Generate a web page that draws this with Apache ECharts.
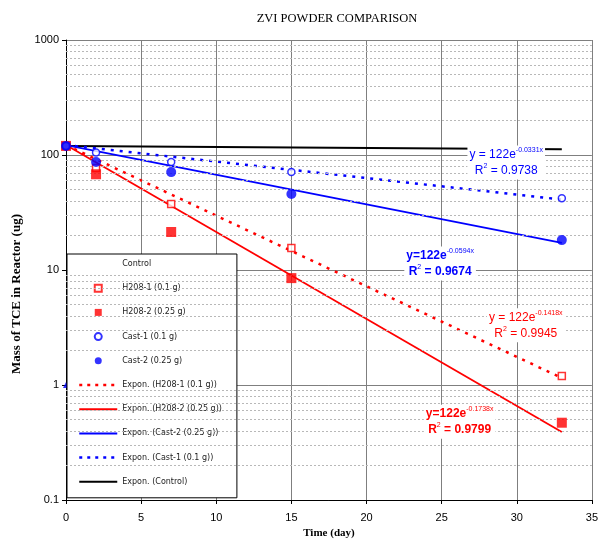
<!DOCTYPE html>
<html>
<head>
<meta charset="utf-8">
<script src="https://cdn.jsdelivr.net/npm/echarts@6/dist/echarts.min.js"></script>
<style>
html,body{margin:0;padding:0;background:#fff;}
#c{width:601px;height:548px;}
</style>
</head>
<body>
<div id="c"></div>
<script>
// ---- data ----
var xTicks = [0, 5, 10, 15, 20, 25, 30, 35];
var yTicks = [0.1, 1, 10, 100, 1000];
var minorGrid = [0.2,0.3,0.4,0.5,0.6,0.7,0.8,0.9,2,3,4,5,6,7,8,9,20,30,40,50,60,70,80,90,200,300,400,500,600,700,800,900];

var days = [0, 2, 7, 15, 33];
var h208_1 = [120, 77, 37.5, 15.5, 1.2];
var h208_2 = [120, 68, 21.4, 8.5, 0.47];
var cast_1 = [120, 105, 87, 71, 42];
var cast_2 = [120, 87, 71, 45.8, 18.2];

var trendDays = [0, 33];
var trendH208_1 = [122, 1.15];
var trendH208_2 = [122, 0.39];
var trendCast_2 = [122, 17.2];
var trendCast_1 = [122, 41];
var trendControl = [120, 112];

var strayPoint = [[0, 1]];

// annotation anchors [day, value] and texts
var annCast1 = {at: [29.3, 86], exp: '-0.0331x', r2: '0.9738'};
var annCast2 = {at: [24.9, 11.4], exp: '-0.0594x', r2: '0.9674'};
var annH1 = {at: [30.6, 3.3], exp: '-0.1418x', r2: '0.9945'};
var annH2 = {at: [26.2, 0.48], exp: '-0.1738x', r2: '0.9799'};

function pairs(xs, ys){ return xs.map(function(x,i){ return [x, ys[i]]; }); }

var RED = '#ff0000', BLUE = '#0000ff';
var SQUARE = 'path://M0,0L10,0L10,10L0,10Z';

function annotation(a, color, bold){
  var w = bold ? 'bold' : 'normal';
  var sp = bold ? '' : ' ';
  return {
    silent: true,
    symbol: 'rect', symbolSize: 0,
    data: [{coord: a.at}],
    label: {
      show: true, position: 'inside',
      backgroundColor: '#fff', padding: [1, 2],
      align: 'center', verticalAlign: 'middle',
      formatter: '{a|y' + sp + '=' + sp + '122e}{s|' + a.exp + '}\n{a|R}{s|2}{a| = ' + a.r2 + '}',
      rich: {
        a: {fontFamily: 'Liberation Sans, Arial', fontSize: 12, fontWeight: w, color: color, lineHeight: 16},
        s: {fontFamily: 'Liberation Sans, Arial', fontSize: 7, color: color, verticalAlign: 'top', lineHeight: 16, padding: [0,0,6,0]}
      }
    }
  };
}

var chart = echarts.init(document.getElementById('c'), null, {renderer: 'canvas'});

var hideSym = {opacity: 0};
var legendData = [
  {name: 'Control'},
  {name: 'H208-1 (0.1 g)', icon: SQUARE},
  {name: 'H208-2 (0.25 g)', icon: SQUARE},
  {name: 'Cast-1 (0.1 g)', icon: 'circle'},
  {name: 'Cast-2 (0.25 g)', icon: 'circle'},
  {name: 'Expon. (H208-1 (0.1 g))', itemStyle: hideSym, lineStyle: {type: [3, 5], width: 2.5}},
  {name: 'Expon. (H208-2 (0.25 g))', itemStyle: hideSym, lineStyle: {type: 'solid', width: 2}},
  {name: 'Expon. (Cast-2 (0.25 g))', itemStyle: hideSym, lineStyle: {type: 'solid', width: 2}},
  {name: 'Expon. (Cast-1 (0.1 g))', itemStyle: hideSym, lineStyle: {type: [3, 5], width: 2.5}},
  {name: 'Expon. (Control)', itemStyle: hideSym, lineStyle: {type: 'solid', width: 2}}
];

var option = {
  animation: false,
  backgroundColor: '#fff',
  title: {
    text: 'ZVI POWDER COMPARISON',
    left: 332, top: 7, textAlign: 'center',
    textStyle: {fontFamily: 'Liberation Serif, Times New Roman, serif', fontSize: 12.5, fontWeight: 'normal', color: '#000'}
  },
  grid: {left: 66, right: 3, top: 40, bottom: 48, containLabel: false},
  legend: {
    data: legendData,
    orient: 'vertical',
    left: 67, top: 254,
    padding: [5, 15, 11, 11],
    itemWidth: 38, itemHeight: 7, itemGap: 14.2,
    backgroundColor: '#fff', borderColor: '#000', borderWidth: 1,
    selectedMode: false,
    textStyle: {fontFamily: 'DejaVu Sans, Verdana, sans-serif', fontSize: 8, color: '#222', lineHeight: 10}
  },
  xAxis: {
    type: 'value', min: 0, max: 35, interval: 5,
    name: 'Time (day)', nameLocation: 'middle', nameGap: 28,
    nameTextStyle: {fontFamily: 'Liberation Serif, Times New Roman, serif', fontSize: 11, fontWeight: 'bold', color: '#000'},
    axisLine: {show: true, onZero: false, lineStyle: {color: '#000', width: 1}},
    axisTick: {show: true, length: 4, lineStyle: {color: '#000'}},
    axisLabel: {fontFamily: 'Liberation Sans, Arial', fontSize: 11, color: '#000', margin: 12},
    splitLine: {show: true, lineStyle: {color: '#7f7f7f', width: 1}}
  },
  yAxis: {
    type: 'log', logBase: 10, min: 0.1, max: 1000,
    name: 'Mass of TCE in Reactor (ug)', nameLocation: 'middle', nameGap: 39, nameRotate: 90,
    nameTextStyle: {fontFamily: 'Liberation Serif, Times New Roman, serif', fontSize: 13, fontWeight: 'bold', color: '#000',
      padding: [0, 48, 0, 0]},
    axisLine: {show: true, onZero: false, lineStyle: {color: '#000', width: 1}},
    axisTick: {show: true, length: 4, lineStyle: {color: '#000'}},
    axisLabel: {fontFamily: 'Liberation Sans, Arial', fontSize: 11, color: '#000', margin: 7,
      formatter: function(v){ return String(+v.toPrecision(3)); }},
    splitLine: {show: true, lineStyle: {color: '#7f7f7f', width: 1}}
  },
  series: [
    {
      name: 'minor', type: 'line', data: [], silent: true,
      markLine: {
        silent: true, symbol: 'none', label: {show: false},
        lineStyle: {color: '#b8b8b8', type: [2, 2], width: 1},
        data: minorGrid.map(function(v){ return {yAxis: v}; })
      }
    },
    {name: 'Expon. (Control)', type: 'line', data: pairs(trendDays, trendControl), symbol: 'none',
      lineStyle: {color: '#000', width: 2}, itemStyle: {color: '#000'}, z: 3},
    {name: 'Expon. (Cast-1 (0.1 g))', type: 'line', data: pairs(trendDays, trendCast_1), symbol: 'none',
      lineStyle: {color: BLUE, width: 2.5, type: [3, 6]}, itemStyle: {color: BLUE}, z: 3,
      markPoint: annotation(annCast1, BLUE, false)},
    {name: 'Expon. (Cast-2 (0.25 g))', type: 'line', data: pairs(trendDays, trendCast_2), symbol: 'none',
      lineStyle: {color: BLUE, width: 1.8, type: 'solid'}, itemStyle: {color: BLUE}, z: 3,
      markPoint: annotation(annCast2, BLUE, true)},
    {name: 'Expon. (H208-1 (0.1 g))', type: 'line', data: pairs(trendDays, trendH208_1), symbol: 'none',
      lineStyle: {color: RED, width: 2.5, type: [3, 6]}, itemStyle: {color: RED}, z: 3,
      markPoint: annotation(annH1, RED, false)},
    {name: 'Expon. (H208-2 (0.25 g))', type: 'line', data: pairs(trendDays, trendH208_2), symbol: 'none',
      lineStyle: {color: RED, width: 1.8, type: 'solid'}, itemStyle: {color: RED}, z: 3,
      markPoint: annotation(annH2, RED, true)},
    {name: 'Control', type: 'scatter', data: [], symbol: 'rect', symbolSize: 8,
      itemStyle: {color: 'rgba(0,0,0,0)'}},
    {name: 'H208-1 (0.1 g)', type: 'scatter', data: pairs(days, h208_1), symbol: 'rect', symbolSize: 7,
      itemStyle: {color: '#fff', borderColor: RED, borderWidth: 1.5}, z: 5},
    {name: 'H208-2 (0.25 g)', type: 'scatter', data: pairs(days, h208_2), symbol: 'rect', symbolSize: 10,
      itemStyle: {color: RED}, z: 5},
    {name: 'Cast-1 (0.1 g)', type: 'scatter', data: pairs(days, cast_1), symbol: 'circle', symbolSize: 7,
      itemStyle: {color: '#fff', borderColor: BLUE, borderWidth: 1.5}, z: 5},
    {name: 'Cast-2 (0.25 g)', type: 'scatter', data: pairs(days, cast_2), symbol: 'circle', symbolSize: 10,
      itemStyle: {color: BLUE}, z: 5},
    {name: 'stray', type: 'scatter', data: strayPoint, symbol: 'triangle', symbolSize: 6,
      itemStyle: {color: BLUE}, z: 1}
  ]
};
chart.setOption(option);
</script>
</body>
</html>
